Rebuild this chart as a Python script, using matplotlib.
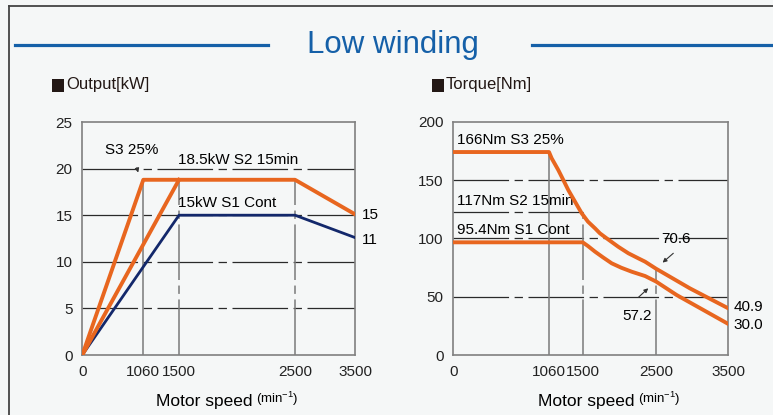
import numpy as np
import matplotlib
matplotlib.use('Agg')
import matplotlib.pyplot as plt
from matplotlib.lines import Line2D
from matplotlib.patches import Rectangle

# --- Data ---
speed_ticks = [0, 1060, 1500, 2500, 3500]
speed_labels = ['0', '1060', '1500', '2500', '3500']

# Output [kW]
out_s3_x = [0, 1060, 2500, 3500]
out_s3_y = [0, 18.8, 18.8, 15.1]
out_s2_x = [0, 1500]
out_s2_y = [0, 18.8]
out_s1_x = [0, 1500, 2500, 3500]
out_s1_y = [0, 15.0, 15.0, 12.6]
out_yticks = [0, 5, 10, 15, 20, 25]

# Torque [Nm]
trq_s3_x = [0, 1060, 1095, 1181, 1247, 1312, 1400, 1487, 1572, 1668, 1735, 1827,
            1985, 2123, 2258, 2351, 2500, 2970, 3500]
trq_s3_y = [174, 174, 168.6, 158.6, 150, 141.4, 131.4, 121.5, 114.3, 108.6, 104.3, 100,
            92.8, 87.2, 82.9, 80, 74, 57.1, 40]
trq_s1_x = [0, 1500, 1572, 1668, 1777, 1896, 2027, 2169, 2351, 2500, 2786, 3500]
trq_s1_y = [96.6, 96.6, 93.4, 88.6, 83.7, 78.6, 74.8, 71.4, 67.7, 63, 51.4, 26.6]
trq_yticks = [0, 50, 100, 150, 200]
trq_s2_level = 123

# the drawing uses an uneven speed axis; positions of the speed ticks
left_axis_pos = [0, 61, 96.7, 212.7, 272.7]
right_axis_pos = [0, 95.7, 129.4, 202.7, 275]

BG = '#f5f7f7'
ORANGE = '#e8661f'
NAVY = '#13286b'
GRID_H = '#2a2a2a'
GRID_V = '#7a7a7a'
DASH = (0, (40, 4, 6, 4))

plt.rcParams['font.family'] = ['Liberation Sans Narrow', 'Liberation Sans', 'DejaVu Sans']
plt.rcParams['mathtext.fontset'] = 'custom'
plt.rcParams['mathtext.rm'] = 'Liberation Sans'
plt.rcParams['lines.scale_dashes'] = False


def speed_scale(ax, pos):
    fwd = lambda x: np.interp(x, speed_ticks, pos)
    inv = lambda p: np.interp(p, pos, speed_ticks)
    ax.set_xscale('function', functions=(fwd, inv))


def style_axes(ax, yticks, ymax):
    ax.set_facecolor(BG)
    ax.set_xlim(0, 3500)
    ax.set_ylim(0, ymax)
    ax.set_xticks(speed_ticks)
    ax.set_xticklabels(speed_labels)
    ax.set_yticks(yticks)
    ax.tick_params(length=0, labelsize=11, pad=7, colors='#222222')
    for s in ax.spines.values():
        s.set_color('#808080')
        s.set_linewidth(1.2)


fig = plt.figure(figsize=(7.73, 4.15), dpi=100, facecolor=BG)

# frame and heading
fig.add_artist(Line2D([9 / 773, 9 / 773], [0, 1 - 6 / 415], color='#444444', lw=1.3))
fig.add_artist(Line2D([9 / 773, 1], [1 - 6 / 415, 1 - 6 / 415], color='#444444', lw=1.3))
fig.add_artist(Line2D([15 / 773, 268 / 773], [1 - 45 / 415] * 2, color='#1560a8', lw=2.3))
fig.add_artist(Line2D([532 / 773, 1], [1 - 45 / 415] * 2, color='#1560a8', lw=2.3))
fig.text(393 / 773, 1 - 45 / 415, 'Low winding', color='#1560a8', fontsize=22.5,
         ha='center', va='center')
for x0, label in [(52, 'Output[kW]'), (432, 'Torque[Nm]')]:
    fig.add_artist(Rectangle((x0 / 773, 1 - 92 / 415), 12 / 773, 13 / 415,
                             facecolor='#231815', edgecolor='none'))
    fig.text((x0 + 14) / 773, 1 - 85 / 415, label, fontsize=12, va='center', color='#231815')

# ---------------- Output ----------------
ax1 = fig.add_axes([82.3 / 773, 1 - 355 / 415, 272.7 / 773, 233 / 415])
speed_scale(ax1, left_axis_pos)
style_axes(ax1, out_yticks, 25)
for yv in [5, 10, 15, 20]:
    ax1.axhline(yv, color=GRID_H, lw=0.9, linestyle=DASH, zorder=1)
ax1.plot([1060, 1060], [0, out_s3_y[1]], color=GRID_V, lw=1.1, zorder=1)
ax1.plot([1500, 1500], [0, out_s3_y[1]], color=GRID_V, lw=1.1, linestyle=DASH, zorder=1)
ax1.plot([2500, 2500], [0, out_s3_y[2]], color=GRID_V, lw=1.1, linestyle=DASH, zorder=1)

ax1.plot(out_s1_x, out_s1_y, color=NAVY, lw=2.0, zorder=3)
ax1.plot(out_s2_x, out_s2_y, color=ORANGE, lw=2.8, zorder=4)
ax1.plot(out_s3_x, out_s3_y, color=ORANGE, lw=2.8, zorder=4)

ax1.annotate('S3 25%', xy=(0.205, 0.783), xytext=(0.182, 0.88), xycoords='axes fraction',
             ha='center', va='center', fontsize=11,
             arrowprops=dict(arrowstyle='-|>', color='#333333', lw=0.8, mutation_scale=6,
                             shrinkA=6, shrinkB=0))
ax1.text(0.352, 0.837, '18.5kW S2 15min', transform=ax1.transAxes, fontsize=11, va='center')
ax1.text(0.352, 0.651, '15kW S1 Cont', transform=ax1.transAxes, fontsize=11, va='center')
ax1.text(1.026, 0.601, '15', transform=ax1.transAxes, fontsize=11, va='center')
ax1.text(1.026, 0.494, '11', transform=ax1.transAxes, fontsize=11, va='center')

# ---------------- Torque ----------------
ax2 = fig.add_axes([453.3 / 773, 1 - 355 / 415, 275 / 773, 233.3 / 415])
speed_scale(ax2, right_axis_pos)
style_axes(ax2, trq_yticks, 200)
for yv in [50, 100, 150]:
    ax2.axhline(yv, color=GRID_H, lw=0.9, linestyle=DASH, zorder=1)
ax2.plot([0, 1500], [trq_s2_level] * 2, color=GRID_H, lw=0.9, linestyle=DASH, zorder=1)
ax2.plot([1060, 1060], [0, trq_s3_y[1]], color=GRID_V, lw=1.1, zorder=1)
ax2.plot([1500, 1500], [0, trq_s2_level], color=GRID_V, lw=1.1, linestyle=DASH, zorder=1)
ax2.plot([2500, 2500], [0, trq_s3_y[16]], color=GRID_V, lw=1.1, linestyle=DASH, zorder=1)

ax2.plot(trq_s3_x, trq_s3_y, color=ORANGE, lw=2.8, zorder=4, solid_joinstyle='round')
ax2.plot(trq_s1_x, trq_s1_y, color=ORANGE, lw=2.8, zorder=4, solid_joinstyle='round')

ax2.text(0.0145, 0.921, '166Nm S3 25%', transform=ax2.transAxes, fontsize=11, va='center')
ax2.text(0.0145, 0.66, '117Nm S2 15min', transform=ax2.transAxes, fontsize=11, va='center')
ax2.text(0.0145, 0.536, '95.4Nm S1 Cont', transform=ax2.transAxes, fontsize=11, va='center')
arrow = dict(arrowstyle='-|>', color='#333333', lw=0.8, mutation_scale=6, shrinkA=0, shrinkB=0)
ax2.text(0.81, 0.497, '70.6', transform=ax2.transAxes, fontsize=11, ha='center', va='center')
ax2.annotate('', xy=(0.761, 0.396), xytext=(0.80, 0.436), xycoords='axes fraction', arrowprops=arrow)
ax2.text(0.67, 0.167, '57.2', transform=ax2.transAxes, fontsize=11, ha='center', va='center')
ax2.annotate('', xy=(0.709, 0.286), xytext=(0.673, 0.247), xycoords='axes fraction', arrowprops=arrow)
ax2.text(1.018, 0.204, '40.9', transform=ax2.transAxes, fontsize=11, va='center')
ax2.text(1.018, 0.129, '30.0', transform=ax2.transAxes, fontsize=11, va='center')

# axis titles
for xr in [253, 635]:
    fig.text(xr / 773, 1 - 401 / 415, 'Motor speed', fontsize=12.5, ha='right', va='center')
    fig.text((xr + 3) / 773, 1 - 399 / 415, r'(min$^{\mathregular{-1}}$)', fontsize=9.5,
             ha='left', va='center')

fig.savefig('out.png', dpi=100, facecolor=BG)
